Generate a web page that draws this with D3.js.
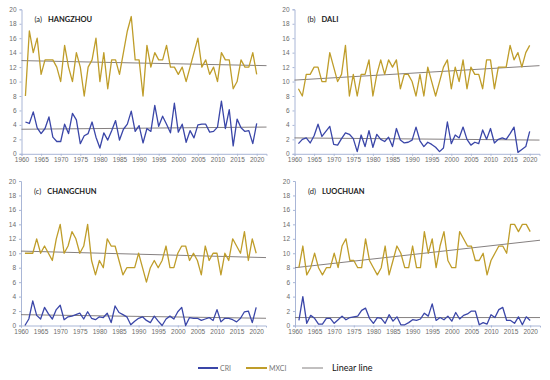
<!DOCTYPE html>
<html>
<head>
<meta charset="utf-8">
<script src="https://cdn.jsdelivr.net/npm/d3@7"></script>
<style>
  body { margin: 0; background: #fff; }
  svg { font-family: Lato, "Open Sans", sans-serif; }
  .tick text { fill: #6b6b6b; }
</style>
</head>
<body>
<svg id="chart" width="550" height="380"></svg>
<script>
"use strict";
// years on the x axis, one value per year
var years = d3.range(1961, 2021);
var xTicks = [1960, 1965, 1970, 1975, 1980, 1985, 1990, 1995, 2000, 2005, 2010, 2015, 2020];
var yTicks = [0, 2, 4, 6, 8, 10, 12, 14, 16, 18, 20];

var stations = ["HANGZHOU", "DALI", "CHANGCHUN", "LUOCHUAN"];
var panelLetters = ["(a)", "(b)", "(c)", "(d)"];

// MXCI series
var mxciHangzhou = [8, 17, 14, 16, 11, 13, 13, 13, 12, 10, 15, 12, 10, 14, 12, 8, 12, 13, 16, 10,
  14, 9, 13, 13, 11, 14, 17, 19, 13, 13, 8, 15, 12, 14, 13, 13, 15, 12, 12, 11,
  12, 10, 12, 14, 16, 12, 13, 11, 12, 10, 14, 13, 13, 9, 10, 13, 12, 12, 14, 11];
var mxciDali = [9, 8, 11, 11, 12, 12, 10, 10, 14, 12, 10, 11, 15, 8, 11, 8, 11, 11, 13, 8,
  11, 13, 11, 13, 12, 13, 9, 11, 11, 10, 8, 11, 8, 12, 10, 8, 10, 12, 13, 9,
  12, 10, 13, 9, 12, 11, 11, 9, 13, 13, 9, 12, 12, 12, 15, 13, 14, 12, 14, 15];
var mxciChangchun = [10, 10, 10, 12, 10, 11, 10, 9, 12, 14, 10, 11, 13, 12, 10, 11, 14, 9, 7, 9,
  8, 12, 11, 11, 9, 7, 8, 8, 8, 10, 8, 6, 8, 9, 8, 9, 11, 8, 8, 10,
  11, 11, 9, 10, 9, 7, 11, 9, 10, 10, 7, 10, 9, 12, 11, 10, 13, 9, 12, 10];
var mxciLuochuan = [8, 11, 7, 8, 10, 8, 7, 8, 8, 10, 8, 11, 12, 9, 9, 8, 8, 12, 9, 8,
  7, 8, 11, 7, 9, 11, 10, 8, 8, 11, 8, 8, 13, 10, 12, 8, 11, 13, 9, 8,
  8, 13, 12, 11, 11, 9, 9, 10, 7, 9, 10, 11, 11, 10, 14, 14, 13, 14, 14, 13];

// CRI series
var criHangzhou = [4.4, 4.2, 5.8, 3.6, 2.8, 3.5, 5.1, 2.3, 1.7, 1.7, 4.1, 2.8, 5.6, 4.7, 1.4, 2.5, 2.8, 4.4, 2.3, 0.8,
  2.9, 1.9, 3.2, 4.6, 1.9, 3.4, 4.1, 5.9, 3.1, 3.9, 1.5, 3.5, 3.1, 6.7, 3.8, 5.2, 4.1, 2.9, 7.0, 3.0,
  4.1, 1.6, 3.2, 2.2, 4.0, 4.1, 4.1, 3.0, 3.1, 3.7, 7.3, 3.5, 6.1, 1.1, 4.8, 3.6, 3.1, 3.2, 1.4, 4.2];
var criDali = [1.4, 2.0, 2.2, 1.5, 2.5, 4.1, 2.4, 3.1, 3.8, 1.3, 1.2, 2.1, 2.9, 2.7, 2.1, 0.3, 2.6, 1.0, 3.2, 0.9,
  2.7, 2.0, 1.7, 2.3, 1.0, 3.5, 1.9, 1.5, 1.6, 1.9, 3.7, 1.8, 1.0, 1.6, 1.3, 0.9, 0.3, 0.8, 4.4, 1.4,
  2.6, 2.2, 3.7, 2.0, 1.2, 1.6, 1.4, 3.3, 2.0, 3.5, 1.5, 2.0, 2.2, 2.0, 2.8, 3.7, 0.2, 0.6, 1.0, 3.1];
var criChangchun = [0.0, 0.9, 3.4, 1.4, 0.9, 2.5, 1.6, 0.9, 2.2, 2.8, 0.8, 1.2, 1.3, 1.5, 1.7, 0.9, 1.9, 1.0, 0.8, 1.2,
  1.1, 1.7, 0.4, 2.7, 1.8, 1.5, 1.2, 0.1, 0.6, 1.0, 1.2, 0.7, 0.4, 1.3, 0.6, 0.0, 0.9, 1.3, 0.9, 1.9,
  2.5, 0.0, 1.1, 1.0, 1.0, 0.7, 0.9, 1.1, 0.7, 2.2, 0.5, 1.0, 1.0, 0.8, 0.5, 1.0, 1.9, 2.0, 0.4, 2.5];
var criLuochuan = [0.7, 4.0, 0.3, 1.4, 1.0, 0.2, 0.2, 1.0, 1.0, 0.3, 0.8, 1.3, 0.8, 1.1, 1.2, 1.3, 2.1, 2.4, 1.0, 0.3,
  1.1, 1.0, 0.3, 1.5, 0.6, 1.2, 0.1, 0.1, 0.4, 0.8, 0.7, 0.9, 1.7, 1.3, 3.0, 0.7, 1.1, 0.8, 1.3, 0.6,
  1.8, 0.9, 1.4, 1.6, 2.0, 2.0, 0.1, 0.4, 0.2, 1.5, 1.1, 2.2, 2.5, 0.7, 0.7, 0.3, 1.2, 0.1, 1.2, 0.7];

// linear line end values (at 1960 and at the right end of the axis)
var mxciTrend = [[12.9, 12.2], [10.2, 12.2], [10.3, 9.4], [8.0, 11.8]];
var criTrend = [[3.4, 3.7], [2.2, 1.9], [1.5, 1.0], [1.1, 1.1]];

var mxciSeries = [mxciHangzhou, mxciDali, mxciChangchun, mxciLuochuan];
var criSeries = [criHangzhou, criDali, criChangchun, criLuochuan];

var legendLabels = ["CRI", "MXCI", "Linear line"];

var CRI_COLOR = "#3a46a8";
var MXCI_COLOR = "#bf9d2a";
var TREND_COLOR = "#777272";
var AXIS_COLOR = "#a9b6d6";

var svg = d3.select("#chart");

// panel origins: left of plot, top of plot
var panels = [
  {left: 21.5, top: 9.3},
  {left: 294.5, top: 9.3},
  {left: 21.0, top: 181},
  {left: 295.0, top: 181}
];
var plotW = 245, plotH = 144.5;
var xMax = 2022.5;

function drawPanel(i) {
  var p = panels[i];
  var g = svg.append("g").attr("transform", "translate(" + p.left + "," + p.top + ")");

  var x = d3.scaleLinear().domain([1960, xMax]).range([0, plotW]);
  var y = d3.scaleLinear().domain([0, 20]).range([plotH, 0]);

  // y axis
  var yAxis = g.append("g")
    .call(d3.axisLeft(y).tickValues(yTicks).tickSize(2).tickPadding(3));
  yAxis.select(".domain").attr("stroke", AXIS_COLOR);
  yAxis.selectAll(".tick line").attr("stroke", AXIS_COLOR);
  yAxis.selectAll("text").style("font-size", "6.5px");

  // x axis
  var xAxis = g.append("g")
    .attr("transform", "translate(0," + plotH + ")")
    .call(d3.axisBottom(x).tickValues(xTicks).tickFormat(d3.format("d")).tickSize(2).tickPadding(2));
  xAxis.select(".domain").attr("stroke", AXIS_COLOR);
  xAxis.selectAll(".tick line").attr("stroke", AXIS_COLOR);
  xAxis.selectAll("text").style("font-size", "6.5px");

  var line = d3.line()
    .x(function (d, k) { return x(years[k]); })
    .y(function (d) { return y(d); });

  // trend lines
  [mxciTrend[i], criTrend[i]].forEach(function (t) {
    g.append("line")
      .attr("x1", x(1960)).attr("y1", y(t[0]))
      .attr("x2", x(xMax)).attr("y2", y(t[1]))
      .attr("stroke", TREND_COLOR)
      .attr("stroke-width", 0.9);
  });

  g.append("path")
    .datum(mxciSeries[i])
    .attr("d", line)
    .attr("fill", "none")
    .attr("stroke", MXCI_COLOR)
    .attr("stroke-width", 1.3)
    .attr("stroke-linejoin", "round");

  g.append("path")
    .datum(criSeries[i])
    .attr("d", line)
    .attr("fill", "none")
    .attr("stroke", CRI_COLOR)
    .attr("stroke-width", 1.3)
    .attr("stroke-linejoin", "round");

  // panel title
  var title = g.append("text")
    .attr("x", 13)
    .attr("y", 13)
    .style("font-size", "7.5px")
    .attr("fill", "#222");
  title.append("tspan").text(panelLetters[i]);
  title.append("tspan").attr("dx", 6).style("font-weight", "bold").text(stations[i]);
}

for (var i = 0; i < panels.length; i++) {
  drawPanel(i);
}

// legend
var legend = svg.append("g").attr("transform", "translate(198,368)");
var legendItems = [
  {x: 0, w: 20, color: CRI_COLOR, sw: 2, label: legendLabels[0], size: "7px", fill: "#777"},
  {x: 48, w: 21, color: MXCI_COLOR, sw: 2, label: legendLabels[1], size: "7px", fill: "#777"},
  {x: 104, w: 21, color: TREND_COLOR, sw: 0.9, label: legendLabels[2], size: "9px", fill: "#111"}
];
legendItems.forEach(function (d) {
  legend.append("line")
    .attr("x1", d.x).attr("x2", d.x + d.w)
    .attr("y1", 0).attr("y2", 0)
    .attr("stroke", d.color)
    .attr("stroke-width", d.sw);
  legend.append("text")
    .attr("x", d.x + d.w + (d.label === "Linear line" ? 9 : 2))
    .attr("y", d.label === "Linear line" ? 3 : 2.5)
    .style("font-size", d.size)
    .attr("fill", d.fill)
    .text(d.label);
});
</script>
</body>
</html>
